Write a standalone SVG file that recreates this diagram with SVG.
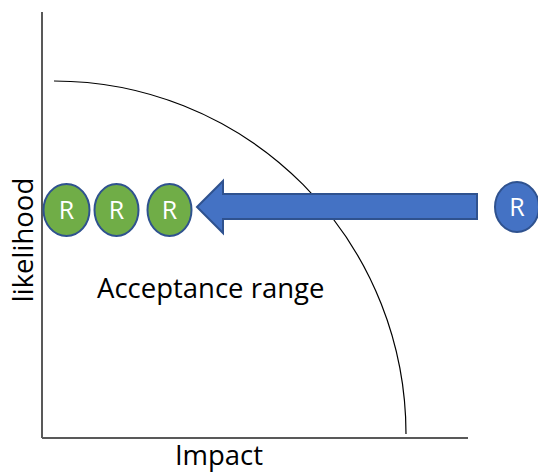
<svg xmlns="http://www.w3.org/2000/svg" width="538" height="473" viewBox="0 0 538 473">
<style>
.axis{stroke:#595959;stroke-width:2;fill:none}
.curve{stroke:#000;stroke-width:1.2;fill:none}
.g{fill:#70AD47;stroke:#2F528F;stroke-width:2}
.b{fill:#4472C4;stroke:#2F528F;stroke-width:2}
.r{font-family:"Open Sans","Liberation Sans",sans-serif;font-size:25px;fill:#fff;text-anchor:middle}
.t{font-family:"Open Sans","Liberation Sans",sans-serif;font-size:27.5px;fill:#000}
</style>
<rect width="538" height="473" fill="#fff"/>
<g id="axes">
<line class="axis" x1="42" y1="12" x2="42" y2="438"/>
<line class="axis" x1="42" y1="438" x2="468" y2="438"/>
</g>
<g id="boundary">
<path class="curve" d="M54,81 A352,353 0 0 1 406,434"/>
</g>
<g id="connectors">
<path class="b" d="M197,207 L223,181 L223,194 L477,194 L477,219 L223,219 L223,233 Z"/>
</g>
<g id="r1"><ellipse class="g" cx="66.5" cy="210" rx="23" ry="26"/><text class="r" x="66.5" y="218.5">R</text></g>
<g id="r2"><ellipse class="g" cx="116.5" cy="210" rx="22" ry="26"/><text class="r" x="116.5" y="218.5">R</text></g>
<g id="r3"><ellipse class="g" cx="169.5" cy="210" rx="22" ry="26"/><text class="r" x="169.5" y="218.5">R</text></g>
<g id="r4"><ellipse class="b" cx="517" cy="207" rx="22" ry="25"/><text class="r" x="517" y="215.5">R</text></g>
<g id="labels">
<text class="t" x="97" y="298">Acceptance range</text>
<text class="t" x="219" y="465" text-anchor="middle">Impact</text>
<text class="t" transform="translate(33,240) rotate(-90)" text-anchor="middle">likelihood</text>
</g>
</svg>
